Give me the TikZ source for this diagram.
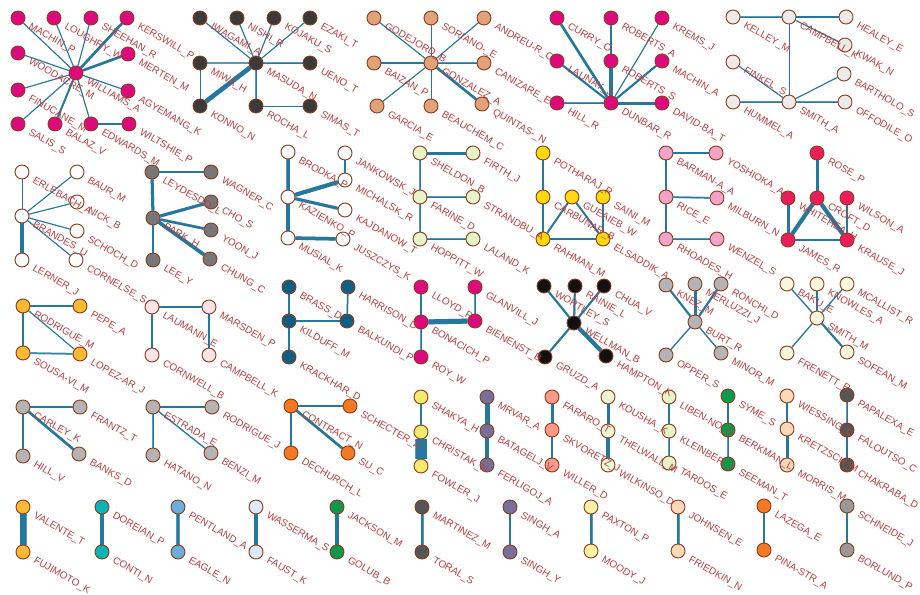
\documentclass[tikz,border=0pt]{standalone}
\usepackage{fontspec}
\newfontfamily\labfont{Liberation Sans}
\pgfdeclarelayer{edgelayer}
\pgfsetlayers{edgelayer,main}
\definecolor{nodeb}{HTML}{8C3B1C}
\definecolor{edgec}{HTML}{0D6892}
\definecolor{labc}{HTML}{B84040}
\definecolor{cMag}{HTML}{DC0A7D}
\definecolor{cDk}{HTML}{3A3A3A}
\definecolor{cTan}{HTML}{E0A279}
\definecolor{cLg}{HTML}{EBEBEB}
\definecolor{cGr}{HTML}{777777}
\definecolor{cLgr}{HTML}{E6F5C9}
\definecolor{cYel}{HTML}{FFD90F}
\definecolor{cPk}{HTML}{F1A3C8}
\definecolor{cCr}{HTML}{E91E5A}
\definecolor{cOy}{HTML}{FBB934}
\definecolor{cLpk}{HTML}{FDE4E6}
\definecolor{cBl}{HTML}{0F5E84}
\definecolor{cBk}{HTML}{111111}
\definecolor{cMg}{HTML}{B4B4B4}
\definecolor{cLy}{HTML}{F5F8DC}
\definecolor{cOr}{HTML}{F47920}
\definecolor{cLyel}{HTML}{F4EB6E}
\definecolor{cPu}{HTML}{776E9A}
\definecolor{cSal}{HTML}{FB9A8A}
\definecolor{cLgg}{HTML}{EEF7D5}
\definecolor{cLgh}{HTML}{E5F5C9}
\definecolor{cGrn}{HTML}{0B9A4C}
\definecolor{cPch}{HTML}{FDD9BA}
\definecolor{cDg}{HTML}{555555}
\definecolor{cTeal}{HTML}{0BB5B5}
\definecolor{cSky}{HTML}{6BAEDB}
\definecolor{cPb}{HTML}{DDEBF6}
\definecolor{cPy}{HTML}{FFF2A4}
\definecolor{cMgg}{HTML}{999999}
\tikzset{
  vtx/.style={circle,draw=nodeb,line width=0.9pt,minimum size=14pt,inner sep=0pt},
  lab/.style={font=\labfont\fontsize{10}{12}\selectfont,text=labc,anchor=base west,rotate=-30,inner sep=0pt},
  edge/.style={draw=edgec,draw opacity=0.68,line cap=butt}
}
\newcommand\VVnode[5]{\node[vtx,fill=#4] (#1) at (#2,#3) {};}
\newcommand\VVlab[5]{\node[lab] (L#1) at ([shift={(10,10)}]#1.center) {#5};}
\newcommand\EE[4]{\draw[edge,line width=#3pt] (#1) -- (#2);\ifdim#4pt>0pt\relax\draw[edge,line width=#4pt] (#1) -- (#2);\fi}
\newcommand\allnodes{%
\VV{machp}{18}{18}{cMag}{MACHIN\_P}
\VV{lough}{54}{18}{cMag}{LOUGHRY\_W}
\VV{sheeh}{91}{18}{cMag}{SHEEHAN\_R}
\VV{kersw}{127}{18}{cMag}{KERSWILL\_P}
\VV{wood}{18}{53}{cMag}{WOODACRE\_M}
\VV{mert}{128}{54}{cMag}{MERTEN\_M}
\VV{wil}{76}{73}{cMag}{WILLIAMS\_A}
\VV{finu}{18}{90}{cMag}{FINUCANE\_M}
\VV{agye}{128}{91}{cMag}{AGYEMANG\_K}
\VV{salis}{18}{124}{cMag}{SALIS\_S}
\VV{balaz}{55}{124}{cMag}{BALAZ\_V}
\VV{edw}{91}{124}{cMag}{EDWARDS\_M}
\VV{wilt}{129}{124}{cMag}{WILTSHIE\_P}
\VV{iwa}{200}{18}{cDk}{IWAGAMI\_A}
\VV{nishi}{237}{18}{cDk}{NISHI\_R}
\VV{koj}{274}{18}{cDk}{KOJAKU\_S}
\VV{ezaki}{310}{18}{cDk}{EZAKI\_T}
\VV{miwa}{200}{63}{cDk}{MIWA\_H}
\VV{mas}{256}{63}{cDk}{MASUDA\_N}
\VV{ueno}{310}{63}{cDk}{UENO\_T}
\VV{konno}{200}{106}{cDk}{KONNO\_N}
\VV{rocha}{256}{106}{cDk}{ROCHA\_L}
\VV{simas}{310}{106}{cDk}{SIMAS\_T}
\VV{code}{374}{18}{cTan}{GODEJORD\_B}
\VV{sori}{431}{18}{cTan}{SORIANO-\_E}
\VV{andr}{484}{18}{cTan}{ANDREU-R\_C}
\VV{baiz}{374}{63}{cTan}{BAIZAN\_P}
\VV{gonz}{431}{63}{cTan}{GONZALEZ\_A}
\VV{cani}{484}{63}{cTan}{CANIZARE\_E}
\VV{garc}{377}{106}{cTan}{GARCIA\_E}
\VV{beau}{431}{106}{cTan}{BEAUCHEM\_C}
\VV{quin}{482}{104}{cTan}{QUINTAS-\_N}
\VV{curry}{557}{18}{cMag}{CURRY\_O}
\VV{roba}{611}{18}{cMag}{ROBERTS\_A}
\VV{krems}{662}{18}{cMag}{KREMS\_J}
\VV{launay}{557}{61}{cMag}{LAUNAY\_J}
\VV{robs}{611}{61}{cMag}{ROBERTS\_S}
\VV{macha}{662}{61}{cMag}{MACHIN\_A}
\VV{hillr}{557}{103}{cMag}{HILL\_R}
\VV{dunb}{611}{103}{cMag}{DUNBAR\_R}
\VV{david}{662}{103}{cMag}{DAVID-BA\_T}
\VV{kel}{733}{17}{cLg}{KELLEY\_M}
\VV{camp}{789}{17}{cLg}{CAMPBELL\_K}
\VV{heal}{846}{17}{cLg}{HEALEY\_E}
\VV{kwak}{845}{45}{cLg}{KWAK\_N}
\VV{fink}{733}{62}{cLg}{FINKEL\_S}
\VV{bart}{844}{74}{cLg}{BARTHOLO\_S}
\VV{humm}{733}{102}{cLg}{HUMMEL\_A}
\VV{smA}{789}{102}{cLg}{SMITH\_A}
\VV{offo}{845}{102}{cLg}{OFFODILE\_O}
\VV{erle}{22}{172}{white}{ERLEBACH\_A}
\VV{baur}{77}{172}{white}{BAUR\_M}
\VV{nick}{77}{202}{white}{NICK\_B}
\VV{bra}{22}{216}{white}{BRANDES\_U}
\VV{schoch}{77}{231}{white}{SCHOCH\_D}
\VV{lern}{22}{260}{white}{LERNER\_J}
\VV{corn}{76}{260}{white}{CORNELSE\_S}
\VV{leyd}{152}{172}{cGr}{LEYDESDO\_L}
\VV{wag}{211}{172}{cGr}{WAGNER\_C}
\VV{cho}{211}{202}{cGr}{CHO\_S}
\VV{park}{153}{218}{cGr}{PARK\_H}
\VV{yoon}{211}{230}{cGr}{YOON\_J}
\VV{lee}{153}{260}{cGr}{LEE\_Y}
\VV{chung}{210}{259}{cGr}{CHUNG\_C}
\VV{brod}{288}{152}{white}{BRODKA\_P}
\VV{jank}{345}{153}{white}{JANKOWSK\_J}
\VV{mich}{345}{180}{white}{MICHALSK\_R}
\VV{kaz}{288}{197}{white}{KAZIENKO\_P}
\VV{kajd}{345}{210}{white}{KAJDANOW\_T}
\VV{mus}{288}{238}{white}{MUSIAL\_K}
\VV{jusz}{343}{239}{white}{JUSZCZYS\_K}
\VV{shel}{420}{153}{cLgr}{SHELDON\_B}
\VV{firth}{473}{153}{cLgr}{FIRTH\_J}
\VV{far}{420}{197}{cLgr}{FARINE\_D}
\VV{stran}{473}{197}{cLgr}{STRANDBU\_A}
\VV{hopp}{420}{239}{cLgr}{HOPPITT\_W}
\VV{lal}{473}{239}{cLgr}{LALAND\_K}
\VV{poth}{543}{153}{cYel}{POTHARAJ\_R}
\VV{carb}{543}{197}{cYel}{CARBUNAR\_B}
\VV{guen}{572}{197}{cYel}{GUEAIEB\_W}
\VV{saini}{603}{197}{cYel}{SAINI\_M}
\VV{rah}{543}{239}{cYel}{RAHMAN\_M}
\VV{els}{603}{239}{cYel}{ELSADDIK\_A}
\VV{barm}{666}{153}{cPk}{BARMAN-A\_A}
\VV{yosh}{716}{153}{cPk}{YOSHIOKA\_A}
\VV{rice}{666}{197}{cPk}{RICE\_E}
\VV{milb}{717}{198}{cPk}{MILBURN\_N}
\VV{rhoa}{666}{239}{cPk}{RHOADES\_H}
\VV{wenz}{717}{239}{cPk}{WENZEL\_S}
\VV{rose}{817}{153}{cCr}{ROSE\_P}
\VV{whit}{788}{198}{cCr}{WHITEHEA\_H}
\VV{croft}{817}{198}{cCr}{CROFT\_D}
\VV{wils}{847}{198}{cCr}{WILSON\_A}
\VV{james}{788}{240}{cCr}{JAMES\_R}
\VV{kraus}{847}{240}{cCr}{KRAUSE\_J}
\VV{rodm}{23}{306}{cOy}{RODRIGUE\_M}
\VV{pepe}{80}{306}{cOy}{PEPE\_A}
\VV{sousa}{23}{353}{cOy}{SOUSA-VI\_M}
\VV{lopez}{80}{354}{cOy}{LOPEZ-AR\_J}
\VV{laum}{152}{307}{cLpk}{LAUMANN\_E}
\VV{mars}{209}{307}{cLpk}{MARSDEN\_P}
\VV{cornw}{152}{355}{cLpk}{CORNWELL\_B}
\VV{campk}{209}{355}{cLpk}{CAMPBELL\_K}
\VV{brass}{289}{287}{cBl}{BRASS\_D}
\VV{harr}{348}{287}{cBl}{HARRISON\_D}
\VV{kild}{289}{321}{cBl}{KILDUFF\_M}
\VV{balk}{347}{321}{cBl}{BALKUNDI\_P}
\VV{krack}{289}{357}{cBl}{KRACKHAR\_D}
\VV{lloyd}{421}{287}{cMag}{LLOYD\_P}
\VV{glan}{475}{287}{cMag}{GLANVILL\_J}
\VV{bona}{421}{322}{cMag}{BONACICH\_P}
\VV{bien}{475}{321}{cMag}{BIENENST\_B}
\VV{roy}{421}{357}{cMag}{ROY\_W}
\VV{wort}{544}{286}{cBk}{WORTLEY\_S}
\VV{rain}{575}{286}{cBk}{RAINIE\_L}
\VV{chua}{604}{286}{cBk}{CHUA\_V}
\VV{well}{574}{323}{cBk}{WELLMAN\_B}
\VV{gruzd}{545}{357}{cBk}{GRUZD\_A}
\VV{hamp}{606}{356}{cBk}{HAMPTON\_K}
\VV{knez}{666}{285}{cMg}{KNEZ\_M}
\VV{merl}{695}{284}{cMg}{MERLUZZI\_J}
\VV{ronchi}{721}{284}{cMg}{RONCHI\_D}
\VV{burt}{695}{322}{cMg}{BURT\_R}
\VV{opper}{666}{355}{cMg}{OPPER\_S}
\VV{minor}{721}{353}{cMg}{MINOR\_M}
\VV{baku}{787}{284}{cLy}{BAKU\_E}
\VV{know}{817}{284}{cLy}{KNOWLES\_A}
\VV{mcal}{847}{284}{cLy}{MCALLIST\_R}
\VV{smM}{817}{318}{cLy}{SMITH\_M}
\VV{fren}{787}{353}{cLy}{FRENETT\_R}
\VV{sofe}{847}{352}{cLy}{SOFEAN\_M}
\VV{carl}{23}{407}{cMg}{CARLEY\_K}
\VV{frantz}{80}{407}{cMg}{FRANTZ\_T}
\VV{hillv}{23}{456}{cMg}{HILL\_V}
\VV{banks}{79}{454}{cMg}{BANKS\_D}
\VV{estr}{153}{407}{cMg}{ESTRADA\_E}
\VV{rodj}{212}{407}{cMg}{RODRIGUE\_J}
\VV{hat}{153}{455}{cMg}{HATANO\_N}
\VV{benzi}{211}{453}{cMg}{BENZI\_M}
\VV{contr}{291}{406}{cOr}{CONTRACT\_N}
\VV{schec}{350}{406}{cOr}{SCHECTER\_A}
\VV{dech}{291}{453}{cOr}{DECHURCH\_L}
\VV{su}{348}{453}{cOr}{SU\_C}
\VV{shak}{421}{397}{cLyel}{SHAKYA\_H}
\VV{chris}{421}{432}{cLyel}{CHRISTAK\_N}
\VV{fowl}{421}{466}{cLyel}{FOWLER\_J}
\VV{mrvar}{487}{397}{cPu}{MRVAR\_A}
\VV{bat}{487}{431}{cPu}{BATAGELJ\_V}
\VV{ferl}{487}{465}{cPu}{FERLIGOJ\_A}
\VV{farar}{552}{397}{cSal}{FARARO\_T}
\VV{skvo}{552}{430}{cSal}{SKVORETZ\_J}
\VV{will}{552}{465}{cSal}{WILLER\_D}
\VV{kous}{608}{397}{cLgg}{KOUSHA\_K}
\VV{thel}{608}{431}{cLgg}{THELWALL\_M}
\VV{wilk}{608}{465}{cLgg}{WILKINSO\_D}
\VV{liben}{669}{397}{cLgh}{LIBEN-NO\_D}
\VV{klein}{669}{431}{cLgh}{KLEINBER\_J}
\VV{tard}{669}{463}{cLgh}{TARDOS\_E}
\VV{syme}{728}{396}{cGrn}{SYME\_S}
\VV{berk}{728}{430}{cGrn}{BERKMAN\_L}
\VV{seem}{728}{464}{cGrn}{SEEMAN\_T}
\VV{wies}{787}{396}{cPch}{WIESSING\_L}
\VV{kretz}{787}{429}{cPch}{KRETZSCH\_M}
\VV{morr}{787}{465}{cPch}{MORRIS\_M}
\VV{papa}{847}{395}{cDg}{PAPALEXA\_E}
\VV{falo}{847}{430}{cDg}{FALOUTSO\_C}
\VV{chak}{847}{465}{cDg}{CHAKRABA\_D}
\VV{val}{23}{507}{cOy}{VALENTE\_T}
\VV{fuji}{23}{552}{cOy}{FUJIMOTO\_K}
\VV{dor}{102}{507}{cTeal}{DOREIAN\_P}
\VV{conti}{102}{552}{cTeal}{CONTI\_N}
\VV{pent}{178}{507}{cSky}{PENTLAND\_A}
\VV{eagle}{178}{552}{cSky}{EAGLE\_N}
\VV{wass}{256}{507}{cPb}{WASSERMA\_S}
\VV{faust}{256}{552}{cPb}{FAUST\_K}
\VV{jack}{337}{507}{cGrn}{JACKSON\_M}
\VV{golub}{337}{552}{cGrn}{GOLUB\_B}
\VV{mart}{422}{507}{cDg}{MARTINEZ\_M}
\VV{toral}{422}{552}{cDg}{TORAL\_S}
\VV{singa}{510}{507}{cPu}{SINGH\_A}
\VV{singy}{510}{552}{cPu}{SINGH\_Y}
\VV{pax}{591}{507}{cPy}{PAXTON\_P}
\VV{moody}{591}{551}{cPy}{MOODY\_J}
\VV{johns}{678}{507}{cPch}{JOHNSEN\_E}
\VV{fried}{678}{551}{cPch}{FRIEDKIN\_N}
\VV{laz}{764}{506}{cOr}{LAZEGA\_E}
\VV{pina}{764}{550}{cOr}{PINA-STR\_A}
\VV{schn}{847}{506}{cMgg}{SCHNEIDE\_J}
\VV{borl}{847}{550}{cMgg}{BORLUND\_P}
}
\begin{document}
\begin{tikzpicture}[x=1pt,y=-1pt]
\useasboundingbox (0,0) rectangle (920,594);
\let\VV\VVnode \allnodes
\begin{pgfonlayer}{edgelayer}
\fill[white] (0,0) rectangle (920,594);
% WILLIAMS
\EE{wil}{machp}{1}{1}\EE{wil}{lough}{1}{1}\EE{wil}{sheeh}{1}{1}\EE{wil}{kersw}{2.5}{2.5}
\EE{wil}{mert}{2.5}{2.5}\EE{wil}{wood}{1}{1}\EE{wil}{finu}{1}{1}\EE{wil}{salis}{1}{1}
\EE{wil}{balaz}{1.8}{1.8}\EE{wil}{edw}{1}{1}\EE{wil}{agye}{1}{1}\EE{edw}{wilt}{1.3}{1.3}
% MASUDA
\EE{mas}{iwa}{1}{1}\EE{mas}{nishi}{1}{1}\EE{mas}{koj}{1}{1}\EE{mas}{ezaki}{1}{1}
\EE{mas}{miwa}{1.5}{0}\EE{mas}{ueno}{2.5}{0.8}\EE{mas}{rocha}{1.5}{0.5}\EE{mas}{konno}{4.5}{4.5}
\EE{miwa}{konno}{1}{1}\EE{rocha}{simas}{1}{1}
% GONZALEZ
\EE{gonz}{code}{1}{1}\EE{gonz}{sori}{1}{0.8}\EE{gonz}{andr}{1}{1}\EE{gonz}{baiz}{1.2}{1.2}
\EE{gonz}{cani}{1.5}{0.5}\EE{gonz}{quin}{2.5}{2.5}\EE{gonz}{beau}{1}{1}\EE{gonz}{garc}{1}{1}
% DUNBAR
\EE{dunb}{curry}{2.5}{2.5}\EE{roba}{robs}{2.5}{2.5}\EE{robs}{dunb}{4}{4}\EE{dunb}{krems}{1}{1}
\EE{dunb}{launay}{2}{2}\EE{dunb}{macha}{2}{2}\EE{dunb}{hillr}{1.5}{0.5}\EE{dunb}{david}{3}{3}
% SMITH_A
\EE{kel}{camp}{1.5}{0.5}\EE{camp}{heal}{2}{1.5}\EE{camp}{kwak}{1}{1}\EE{camp}{smA}{1}{1}
\EE{smA}{fink}{1}{1}\EE{smA}{bart}{1}{1}\EE{smA}{humm}{1.5}{0.5}\EE{smA}{offo}{2}{0.5}
% BRANDES
\EE{bra}{erle}{1}{1}\EE{bra}{baur}{1}{1}\EE{bra}{nick}{1}{1}\EE{bra}{schoch}{1}{1}
\EE{bra}{corn}{1}{1}\EE{bra}{lern}{4}{4}
% PARK
\EE{leyd}{wag}{2.5}{2}\EE{leyd}{park}{3}{3}\EE{park}{cho}{3}{3}\EE{park}{yoon}{2.5}{2.5}
\EE{park}{chung}{3.5}{3.5}\EE{park}{lee}{1.8}{1.8}
% KAZIENKO
\EE{brod}{kaz}{3.5}{3}\EE{kaz}{mich}{4}{4}\EE{jank}{mich}{2}{2}\EE{kaz}{kajd}{3}{3}
\EE{kaz}{mus}{4}{4}\EE{mus}{jusz}{3.5}{3.5}
% SHELDON
\EE{shel}{firth}{3}{3}\EE{shel}{far}{2.5}{0.8}\EE{far}{stran}{2}{0.8}\EE{far}{hopp}{2}{0.8}
\EE{hopp}{lal}{2}{0.8}
% POTHARAJ
\EE{poth}{carb}{2}{1.5}\EE{carb}{rah}{2}{1.5}\EE{guen}{rah}{1.8}{1.8}\EE{guen}{els}{1.8}{1.8}
\EE{saini}{els}{1.5}{1.5}\EE{rah}{els}{2}{2}
% BARMAN
\EE{barm}{yosh}{2}{2}\EE{barm}{rice}{2.5}{2}\EE{rice}{milb}{2}{0.8}\EE{rice}{rhoa}{2.5}{1.5}
\EE{rhoa}{wenz}{2}{0.8}
% ROSE
\EE{rose}{croft}{3}{3}\EE{whit}{james}{3}{3}\EE{croft}{james}{4}{4}\EE{croft}{kraus}{4}{4}
\EE{wils}{kraus}{2}{2}\EE{james}{kraus}{2.5}{2.5}
% RODRIGUE_M
\EE{rodm}{pepe}{2.5}{2.5}\EE{rodm}{sousa}{1.2}{1.2}\EE{rodm}{lopez}{1}{1}\EE{sousa}{lopez}{2}{0.5}
% LAUMANN
\EE{laum}{mars}{2}{2}\EE{laum}{cornw}{2.5}{2.5}\EE{mars}{campk}{2.5}{2.5}
% KILDUFF
\EE{brass}{kild}{2.5}{2.5}\EE{harr}{balk}{1.5}{1.5}\EE{kild}{balk}{2.5}{2.5}\EE{kild}{krack}{2.5}{2.5}
% BONACICH
\EE{lloyd}{bona}{2.5}{2.5}\EE{bona}{bien}{5}{5}\EE{glan}{bien}{2}{1}\EE{bona}{roy}{1.5}{0.8}
% WELLMAN
\EE{well}{wort}{2}{2}\EE{well}{rain}{2}{2}\EE{well}{chua}{2}{2}\EE{well}{gruzd}{2}{2}
\EE{well}{hamp}{4}{4}
% BURT
\EE{burt}{knez}{2}{2}\EE{burt}{merl}{3}{3}\EE{burt}{ronchi}{2}{2}\EE{burt}{opper}{1.2}{1.2}
\EE{burt}{minor}{1.2}{1.2}
% SMITH_M
\EE{smM}{baku}{1.2}{1.2}\EE{smM}{know}{1.2}{1.2}\EE{smM}{mcal}{1.2}{1.2}\EE{smM}{fren}{1.2}{1.2}
\EE{smM}{sofe}{2}{2}
% row 4
\EE{carl}{frantz}{2.5}{2}\EE{carl}{hillv}{2}{2}\EE{carl}{banks}{2.5}{2.5}
\EE{estr}{rodj}{2.5}{2}\EE{estr}{hat}{1.5}{0.5}\EE{estr}{benzi}{1.2}{1.2}
\EE{contr}{schec}{2}{2}\EE{contr}{dech}{2.5}{1.5}\EE{contr}{su}{2.5}{2.5}
\EE{shak}{chris}{2.5}{2.5}\EE{chris}{fowl}{12}{11}
\EE{mrvar}{bat}{5}{5}\EE{bat}{ferl}{4.5}{4.5}
\EE{farar}{skvo}{3}{3}\EE{skvo}{will}{2.5}{1.2}
\EE{kous}{thel}{3}{3}\EE{thel}{wilk}{4}{4}
\EE{liben}{klein}{1.5}{1.5}\EE{klein}{tard}{1.5}{0.3}
\EE{syme}{berk}{2}{2}\EE{berk}{seem}{2}{1}
\EE{wies}{kretz}{2.5}{2.5}\EE{kretz}{morr}{3}{3}
\EE{papa}{falo}{2}{0.8}\EE{falo}{chak}{2}{2}
% row 5
\EE{val}{fuji}{7}{6}\EE{dor}{conti}{4}{4}\EE{pent}{eagle}{4.5}{2.5}\EE{wass}{faust}{3.5}{3.5}
\EE{jack}{golub}{3.5}{3.5}\EE{mart}{toral}{3}{1.5}\EE{singa}{singy}{2.5}{2.5}
\EE{pax}{moody}{3}{1.5}\EE{johns}{fried}{3}{2.5}\EE{laz}{pina}{2.5}{2.5}\EE{schn}{borl}{2.5}{2}
\end{pgfonlayer}
\let\VV\VVlab \allnodes
\end{tikzpicture}
\end{document}
